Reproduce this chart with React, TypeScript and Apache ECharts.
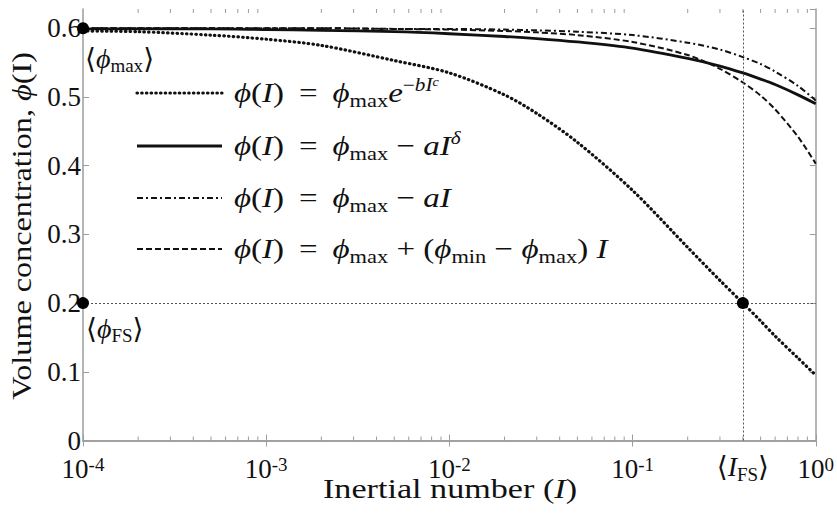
import React, { useEffect, useRef } from "react";
import * as echarts from "echarts";

// Inertial number samples (log-spaced) and the four volume-concentration laws
const inertialNumber = [1e-4, 2e-4, 5e-4, 1e-3, 2e-3, 5e-3, 1e-2, 2e-2, 3e-2, 5e-2, 0.1, 0.2, 0.3, 0.4, 0.5, 0.6, 0.8, 1.0];
const phiExponential = [0.596, 0.595, 0.59, 0.584, 0.575, 0.553, 0.535, 0.503, 0.476, 0.434, 0.364, 0.281, 0.233, 0.2, 0.174, 0.152, 0.12, 0.095];
const phiPowerLaw = [0.599, 0.599, 0.599, 0.598, 0.597, 0.595, 0.592, 0.588, 0.585, 0.58, 0.571, 0.556, 0.545, 0.535, 0.526, 0.518, 0.503, 0.49];
const phiLinearA = [0.6, 0.6, 0.6, 0.6, 0.6, 0.599, 0.599, 0.598, 0.597, 0.595, 0.59, 0.579, 0.569, 0.558, 0.548, 0.537, 0.516, 0.495];
const phiLinearMin = [0.6, 0.6, 0.6, 0.6, 0.6, 0.599, 0.598, 0.596, 0.594, 0.59, 0.58, 0.561, 0.541, 0.521, 0.502, 0.482, 0.442, 0.403];

// Reference values
const phiMax = 0.6;
const phiFS = 0.2;
const iFS = 0.4;
const iMin = 1e-4;

// Axis setup
const xMin = 1e-4;
const xMax = 1;
const yMin = 0;
const yMax = 0.628;
const yInterval = 0.1;
const minorDecades = [1e-4, 1e-3, 1e-2, 1e-1];
const minorMultipliers = [2, 3, 4, 5, 6, 7, 8, 9];

const SERIF = "Liberation Serif, Times New Roman, DejaVu Serif, serif";
const INK = "#111";
const AXIS = "#9c9c9c";

const rich = {
  r: { fontFamily: SERIF, fontSize: 28, lineHeight: 34, color: INK, fill: INK },
  i: { fontFamily: SERIF, fontSize: 28, lineHeight: 34, color: INK, fill: INK, fontStyle: "italic" },
  sub: { fontFamily: SERIF, fontSize: 19, lineHeight: 18, color: INK, fill: INK, verticalAlign: "bottom" },
  supr: { fontFamily: SERIF, fontSize: 18, lineHeight: 18, color: INK, fill: INK, verticalAlign: "top" },
  sup: { fontFamily: SERIF, fontSize: 18, lineHeight: 18, color: INK, fill: INK, verticalAlign: "top", fontStyle: "italic" },
  sup2: { fontFamily: SERIF, fontSize: 12, lineHeight: 12, color: INK, fill: INK, verticalAlign: "top", fontStyle: "italic" },
};

const tickRich = {
  b: { fontFamily: SERIF, fontSize: 27, lineHeight: 28, color: INK },
  s: { fontFamily: SERIF, fontSize: 19, lineHeight: 14, color: INK, verticalAlign: "top" },
};

// thin space used to open up the equals sign a little
const T = "\u2009";

const legendRows = [
  { dash: [0.5, 4.2], width: 3.2, cap: "round", text: `{i|ϕ}{r|(}{i|I}{r|)${T} = ${T}}{i|ϕ}{sub|max}{i|e}{supr|−}{sup|bI}{sup2|c}` },
  { dash: null, width: 2.8, cap: "butt", text: `{i|ϕ}{r|(}{i|I}{r|)${T} = ${T}}{i|ϕ}{sub|max}{r| − }{i|aI}{sup|δ}` },
  { dash: [6, 3, 2, 3], width: 2, cap: "butt", text: `{i|ϕ}{r|(}{i|I}{r|)${T} = ${T}}{i|ϕ}{sub|max}{r| − }{i|aI}` },
  { dash: [6, 3], width: 2, cap: "butt", text: `{i|ϕ}{r|(}{i|I}{r|)${T} = ${T}}{i|ϕ}{sub|max}{r| + (}{i|ϕ}{sub|min}{r| − }{i|ϕ}{sub|max}{r|) }{i|I}` },
];

function pairs(values: number[]) {
  return inertialNumber.map((x, k) => [x, values[k]]);
}

export default function App() {
  const ref = useRef<HTMLDivElement>(null);

  useEffect(() => {
    if (!ref.current) return;
    const chart = echarts.init(ref.current, undefined, { renderer: "svg" });

    const minorTicks: number[][] = [];
    minorDecades.forEach((d) => minorMultipliers.forEach((m) => minorTicks.push([d * m, 0])));

    const legendChildren: any[] = [];
    const rowY = [93, 146, 198, 249];
    legendRows.forEach((row, k) => {
      legendChildren.push({
        type: "line",
        shape: { x1: 137, y1: rowY[k], x2: 222, y2: rowY[k] },
        style: { stroke: INK, lineWidth: row.width, lineDash: row.dash || undefined, lineCap: row.cap },
      });
      legendChildren.push({
        type: "text",
        x: 234,
        y: rowY[k],
        scaleX: 1.18,
        style: { text: row.text, rich, fill: INK, align: "left", verticalAlign: "middle" },
      });
    });

    const lineSeries = (name: string, values: number[], width: number, type: any, cap: string) => ({
      name,
      type: "line",
      data: pairs(values),
      showSymbol: false,
      smooth: 0.3,
      z: 3,
      lineStyle: { color: INK, width, type, cap },
    });

    const pointLabel = (text: string, position: any, distance?: number) => ({
      show: true,
      position,
      distance,
      color: INK,
      opacity: 1,
      textBorderWidth: 0,
      fontFamily: SERIF,
      formatter: text,
      rich,
    });

    chart.setOption({
      animation: false,
      backgroundColor: "#fff",
      textStyle: { fontFamily: SERIF, color: INK },
      grid: { left: 83, right: 20, top: 9, bottom: 73.5, containLabel: false },
      xAxis: [
        {
          type: "log",
          logBase: 10,
          min: xMin,
          max: xMax,
          axisLine: { lineStyle: { color: AXIS, width: 1.5 } },
          axisTick: { inside: true, length: 6, lineStyle: { color: AXIS } },
          splitLine: { show: false },
          axisLabel: {
            margin: 14,
            fontFamily: SERIF,
            color: INK,
            formatter: (v: number) => `{b|10}{s|${Math.round(Math.log10(v))}}`,
            rich: tickRich,
          },
        },
        {
          type: "log",
          logBase: 10,
          min: xMin,
          max: xMax,
          position: "top",
          axisLine: { lineStyle: { color: AXIS, width: 1.5 } },
          axisTick: { inside: true, length: 6, lineStyle: { color: AXIS } },
          splitLine: { show: false },
          axisLabel: { show: false },
        },
      ],
      yAxis: [
        {
          type: "value",
          min: yMin,
          max: yMax,
          interval: yInterval,
          axisLine: { show: true, lineStyle: { color: AXIS, width: 1.5 } },
          axisTick: { show: true, inside: true, length: 6, lineStyle: { color: AXIS } },
          splitLine: { show: false },
          axisLabel: {
            margin: 2,
            showMaxLabel: false,
            fontFamily: SERIF,
            fontSize: 27,
            lineHeight: 18,
            color: INK,
          },
        },
        {
          type: "value",
          min: yMin,
          max: yMax,
          interval: yInterval,
          position: "right",
          axisLine: { show: true, lineStyle: { color: AXIS, width: 1.5 } },
          axisTick: { show: true, inside: true, length: 6, lineStyle: { color: AXIS } },
          splitLine: { show: false },
          axisLabel: { show: false },
        },
      ],
      series: [
        {
          type: "custom",
          silent: true,
          z: 1,
          data: minorTicks,
          renderItem: (_p: any, api: any) => {
            const [x, yb] = api.coord([api.value(0), yMin]);
            const yt = api.coord([api.value(0), yMax])[1];
            const st = { stroke: AXIS, lineWidth: 1 };
            return {
              type: "group",
              children: [
                { type: "line", shape: { x1: x, y1: yb, x2: x, y2: yb - 4 }, style: st },
                { type: "line", shape: { x1: x, y1: yt, x2: x, y2: yt + 4 }, style: st },
              ],
            };
          },
        },
        {
          ...lineSeries("exponential", phiExponential, 3.2, [0.5, 4.2], "round"),
          markLine: {
            silent: true,
            symbol: "none",
            label: { show: false },
            lineStyle: { color: "#555", width: 1, type: [2, 2] },
            data: [{ xAxis: iFS }, { yAxis: phiFS }],
          },
        },
        lineSeries("power", phiPowerLaw, 2.8, "solid", "butt"),
        lineSeries("linear-a", phiLinearA, 2, [6, 3, 2, 3], "butt"),
        lineSeries("linear-min", phiLinearMin, 2, [6, 3], "butt"),
        {
          type: "scatter",
          z: 5,
          symbolSize: 12,
          itemStyle: { color: "#000", opacity: 1 },
          clip: false,
          data: [
            { value: [iMin, phiMax], label: pointLabel("{r|⟨}{i|ϕ}{sub|max}{r|⟩}", [8, 19]) },
            { value: [iMin, phiFS], label: pointLabel("{r|⟨}{i|ϕ}{sub|FS}{r|⟩}", [9, 14]) },
            { value: [iFS, phiFS] },
            {
              value: [iFS, yMin],
              symbolSize: 0,
              label: pointLabel("{r|⟨}{i|I}{sub|FS}{r|⟩}", "bottom", 9),
            },
          ],
        },
      ],
      graphic: [
        { type: "group", children: legendChildren },
        {
          type: "text",
          x: 450,
          y: 489,
          scaleX: 1.22,
          style: {
            text: "{r|Inertial number (}{i|I}{r|)}",
            rich,
            fill: INK,
            align: "center",
            verticalAlign: "middle",
          },
        },
        {
          type: "text",
          x: 22,
          y: 226,
          rotation: Math.PI / 2,
          scaleX: 1.15,
          style: {
            text: "{r|Volume concentration, }{i|ϕ}{r|(I)}",
            rich,
            fill: INK,
            align: "center",
            verticalAlign: "middle",
          },
        },
      ],
    });

    return () => chart.dispose();
  }, []);

  return (
    <div
      ref={ref}
      style={{ position: "fixed", left: 0, top: 0, width: 837, height: 514, background: "#fff" }}
    />
  );
}
